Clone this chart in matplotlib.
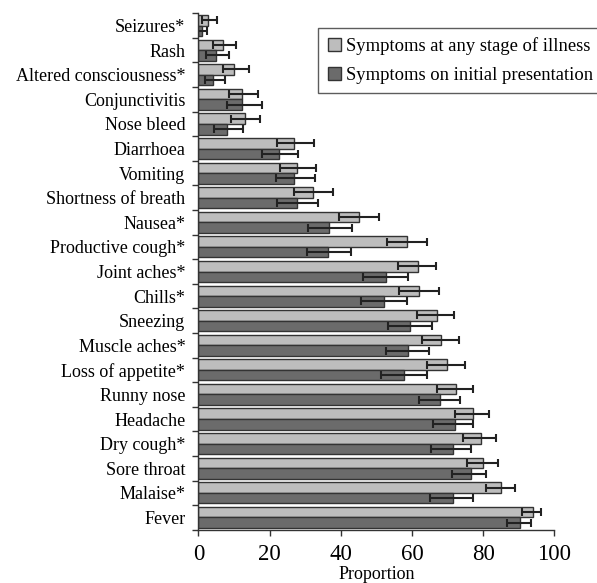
import matplotlib
matplotlib.use("Agg")
import matplotlib.pyplot as plt
import numpy as np

plt.rcParams["font.family"] = ["Liberation Serif", "DejaVu Serif"]

# top to bottom as shown
symptoms = [
    "Seizures*", "Rash", "Altered consciousness*", "Conjunctivitis", "Nose bleed",
    "Diarrhoea", "Vomiting", "Shortness of breath", "Nausea*", "Productive cough*",
    "Joint aches*", "Chills*", "Sneezing", "Muscle aches*", "Loss of appetite*",
    "Runny nose", "Headache", "Dry cough*", "Sore throat", "Malaise*", "Fever",
]
any_stage = [2.8, 7.0, 10.1, 12.4, 13.1, 27.0, 27.6, 32.3, 45.2, 58.5,
             61.8, 62.1, 67.0, 68.2, 69.9, 72.4, 77.1, 79.4, 80.1, 85.0, 94.1]
any_low = [1.0, 4.2, 6.8, 8.7, 9.2, 22.2, 23.0, 26.9, 39.5, 52.9,
           56.2, 56.5, 61.5, 62.7, 64.3, 67.1, 72.1, 74.4, 75.4, 80.7, 91.0]
any_high = [5.2, 10.5, 14.2, 16.9, 17.3, 32.5, 33.1, 37.7, 50.8, 64.2,
            66.8, 67.6, 71.8, 73.2, 74.9, 77.2, 81.7, 83.5, 84.3, 89.0, 96.3]
initial = [0.9, 4.9, 4.0, 12.4, 8.0, 22.8, 27.0, 27.6, 36.8, 36.5,
           52.6, 52.2, 59.5, 59.0, 57.9, 67.9, 72.1, 71.5, 76.5, 71.5, 90.4]
init_low = [0.0, 2.2, 1.9, 8.1, 4.5, 17.8, 21.8, 22.2, 30.9, 30.4,
            46.2, 45.6, 53.2, 52.7, 51.2, 62.1, 66.0, 65.5, 71.2, 65.1, 86.8]
init_high = [2.4, 8.6, 7.4, 17.8, 12.5, 28.1, 32.8, 33.7, 43.1, 42.9,
             58.8, 58.5, 65.6, 64.9, 64.2, 73.5, 77.2, 76.5, 80.8, 77.2, 93.5]
series_names = ["Symptoms at any stage of illness", "Symptoms on initial presentation"]
x_ticks = [0, 20, 40, 60, 80, 100]

LIGHT = "#bdbdbd"
DARK = "#6b6b6b"
EDGE = "#333333"

fig = plt.figure(figsize=(5.97, 5.83), dpi=100)
ax = fig.add_axes([0.3322, 0.0914, 0.5963, 0.8858])

pos = np.arange(len(symptoms))
h = 0.43
a = np.array(any_stage)
b = np.array(initial)
err_a = [a - np.array(any_low), np.array(any_high) - a]
err_b = [b - np.array(init_low), np.array(init_high) - b]

ekw = dict(ecolor="#222222", elinewidth=1.5, capsize=3, capthick=1.5)
ax.barh(pos - h / 2, a, height=h, color=LIGHT, edgecolor=EDGE, linewidth=1,
        xerr=err_a, error_kw=ekw, label=series_names[0])
ax.barh(pos + h / 2, b, height=h, color=DARK, edgecolor=EDGE, linewidth=1,
        xerr=err_b, error_kw=ekw, label=series_names[1])

ax.set_ylim(len(symptoms) - 0.5, -0.5)
ax.set_xlim(0, 100)
ax.set_yticks(pos)
ax.set_yticklabels(symptoms, fontsize=13)
ax.set_yticks(np.arange(len(symptoms) + 1) - 0.5, minor=True)
ax.tick_params(axis="y", which="major", length=0, pad=9.4)
ax.tick_params(axis="y", which="minor", length=4, width=1, color=EDGE, direction="out")
ax.set_xticks(x_ticks)
ax.tick_params(axis="x", labelsize=16.5, length=4, width=1, color=EDGE, direction="out", pad=6)
ax.set_xlabel("Proportion", fontsize=13)
ax.xaxis.set_label_coords(0.5, -0.071)

for side in ("top", "right"):
    ax.spines[side].set_visible(False)
for side in ("left", "bottom"):
    ax.spines[side].set_color(EDGE)
    ax.spines[side].set_linewidth(1)

leg = ax.legend(loc="upper left", bbox_to_anchor=(318.3 / 597, 1 - 28.3 / 583),
                bbox_transform=fig.transFigure, fontsize=13.4, fancybox=False,
                borderaxespad=0, borderpad=0.5, handlelength=0.7, handleheight=0.7,
                handletextpad=0.3, labelspacing=0.6)
leg.get_frame().set_edgecolor(EDGE)
leg.get_frame().set_linewidth(1)

fig.savefig("out.png", dpi=100, facecolor="white")
